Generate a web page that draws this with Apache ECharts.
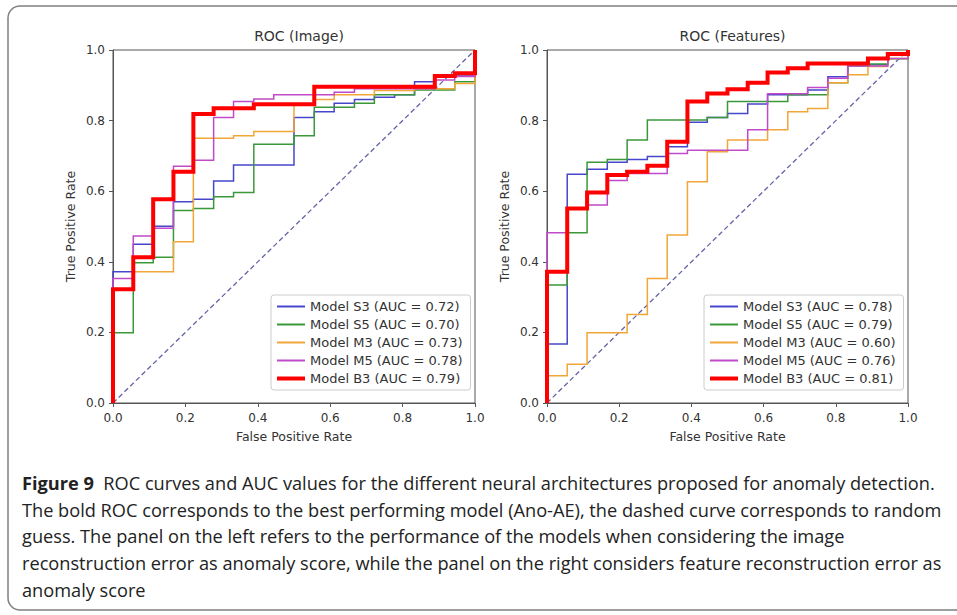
<!DOCTYPE html>
<html><head><meta charset="utf-8">
<script src="https://cdn.jsdelivr.net/npm/echarts@6/dist/echarts.min.js"></script>
<style>html,body{margin:0;padding:0;background:#fff}#c{width:957px;height:615px}</style>
</head><body><div id="c"></div>
<script>
// ---- data ----
const fprGrid = [0, 0.056, 0.111, 0.167, 0.222, 0.278, 0.333, 0.389, 0.444, 0.5, 0.556, 0.611, 0.667, 0.722, 0.778, 0.833, 0.889, 0.944, 1];
const modelNames = ['Model S3', 'Model S5', 'Model M3', 'Model M5', 'Model B3'];
const imageAUC = ['0.72', '0.70', '0.73', '0.78', '0.79'];
const featureAUC = ['0.78', '0.79', '0.60', '0.76', '0.81'];
const panelTitles = ['ROC (Image)', 'ROC (Features)'];
const axisTicks = [0, 0.2, 0.4, 0.6, 0.8, 1.0];

// TPR level reached at each FPR of fprGrid — image reconstruction error
const imageS3 = [0.372, 0.450, 0.501, 0.570, 0.577, 0.629, 0.674, 0.674, 0.674, 0.809, 0.825, 0.849, 0.860, 0.866, 0.873, 0.910, 0.929, 0.929, 0.929];
const imageS5 = [0.199, 0.397, 0.413, 0.545, 0.551, 0.584, 0.596, 0.733, 0.733, 0.757, 0.838, 0.838, 0.849, 0.873, 0.873, 0.887, 0.887, 0.910, 0.910];
const imageM3 = [0.320, 0.372, 0.372, 0.457, 0.750, 0.750, 0.757, 0.769, 0.769, 0.845, 0.860, 0.873, 0.873, 0.885, 0.885, 0.890, 0.890, 0.905, 0.905];
const imageM5 = [0.353, 0.473, 0.495, 0.671, 0.688, 0.809, 0.854, 0.861, 0.873, 0.873, 0.873, 0.880, 0.890, 0.890, 0.890, 0.890, 0.915, 0.925, 0.925];
const imageB3 = [0.322, 0.413, 0.577, 0.655, 0.819, 0.835, 0.835, 0.846, 0.846, 0.846, 0.896, 0.896, 0.896, 0.896, 0.896, 0.896, 0.926, 0.934, 0.934];

// feature reconstruction error
const featS3 = [0.167, 0.648, 0.662, 0.682, 0.690, 0.698, 0.726, 0.795, 0.809, 0.820, 0.847, 0.873, 0.873, 0.887, 0.924, 0.958, 0.958, 0.990, 0.990];
const featS5 = [0.334, 0.482, 0.682, 0.690, 0.745, 0.802, 0.802, 0.802, 0.809, 0.854, 0.854, 0.854, 0.873, 0.873, 0.907, 0.955, 0.960, 0.975, 0.990];
const featM3 = [0.077, 0.110, 0.199, 0.199, 0.251, 0.353, 0.476, 0.627, 0.712, 0.745, 0.745, 0.774, 0.825, 0.834, 0.907, 0.930, 0.953, 0.976, 0.976];
const featM5 = [0.482, 0.550, 0.561, 0.630, 0.650, 0.650, 0.707, 0.716, 0.716, 0.716, 0.774, 0.876, 0.876, 0.894, 0.920, 0.955, 0.955, 0.976, 0.976];
const featB3 = [0.372, 0.551, 0.596, 0.646, 0.655, 0.672, 0.740, 0.854, 0.877, 0.889, 0.907, 0.936, 0.948, 0.962, 0.962, 0.962, 0.976, 0.989, 0.989];

const captionLines = [
  'ROC curves and AUC values for the different neural architectures proposed for anomaly detection.',
  'The bold ROC corresponds to the best performing model (Ano-AE), the dashed curve corresponds to random',
  'guess. The panel on the left refers to the performance of the models when considering the image',
  'reconstruction error as anomaly score, while the panel on the right considers feature reconstruction error as',
  'anomaly score'
];

// ---- styling ----
const colors = ['#4646cc', '#3a983a', '#f2a638', '#c04ac8', '#ff0000'];
const widths = [1.5, 1.5, 1.5, 1.5, 4];
const FONT = 'DejaVu Sans';
const CAPFONT = 'Open Sans';
const CAPSIZE = 18.2;
const grids = [
  {left: 113, top: 50, width: 362, height: 353},
  {left: 547, top: 50, width: 361, height: 353}
];
const legendPos = [{left: 271, top: 295}, {left: 704, top: 295}];

function rocData(tpr) {
  const d = [[0, 0]];
  fprGrid.forEach((f, i) => d.push([f, tpr[i]]));
  d.push([1, 1]);
  return d;
}

const panels = [
  {auc: imageAUC, tprs: [imageS3, imageS5, imageM3, imageM5, imageB3]},
  {auc: featureAUC, tprs: [featS3, featS5, featM3, featM5, featB3]}
];

const option = {
  animation: false,
  backgroundColor: '#fff',
  title: panelTitles.map((t, p) => ({
    text: t,
    left: grids[p].left + grids[p].width / 2,
    top: 24,
    textAlign: 'center',
    textStyle: {fontFamily: FONT, fontSize: 14, fontWeight: 'normal', color: '#333'}
  })),
  grid: grids.map(g => Object.assign({show: true, borderColor: '#555', borderWidth: 1, backgroundColor: 'transparent'}, g)),
  xAxis: grids.map((g, p) => ({
    type: 'value', gridIndex: p, min: 0, max: 1, interval: 0.2,
    name: 'False Positive Rate', nameLocation: 'middle', nameGap: 27,
    nameTextStyle: {fontFamily: FONT, fontSize: 12.5, color: '#333'},
    axisLine: {show: true, lineStyle: {color: '#555', width: 1}},
    axisTick: {show: true, inside: false, length: 4, lineStyle: {color: '#555'}},
    axisLabel: {margin: 9, fontFamily: FONT, fontSize: 12, color: '#333', formatter: v => v.toFixed(1)},
    splitLine: {show: false}
  })),
  yAxis: grids.map((g, p) => ({
    type: 'value', gridIndex: p, min: 0, max: 1, interval: 0.2,
    name: 'True Positive Rate', nameLocation: 'middle', nameGap: 36,
    nameTextStyle: {fontFamily: FONT, fontSize: 12.5, color: '#333'},
    axisLine: {show: true, lineStyle: {color: '#555', width: 1}},
    axisTick: {show: true, inside: false, length: 4, lineStyle: {color: '#555'}},
    axisLabel: {margin: 8, fontFamily: FONT, fontSize: 12, color: '#333', formatter: v => v.toFixed(1)},
    splitLine: {show: false}
  })),
  legend: panels.map((pn, p) => ({
    orient: 'vertical', left: legendPos[p].left, top: legendPos[p].top,
    padding: [5, 8, 5, 4], itemGap: 5, itemWidth: 28, itemHeight: 14,
    borderColor: '#cccccc', borderWidth: 1, borderRadius: 3, backgroundColor: '#fff',
    textStyle: {fontFamily: FONT, fontSize: 13, color: '#333'},
    itemStyle: {opacity: 0, borderWidth: 0},
    selectedMode: false,
    data: modelNames.map((m, i) => ({
      name: m + ' (AUC = ' + pn.auc[i] + ')',
      itemStyle: {opacity: 0, borderWidth: 0},
      lineStyle: {width: i === 4 ? 4 : 2}
    }))
  })),
  series: [],
  graphic: []
};

panels.forEach((pn, p) => {
  option.series.push({
    type: 'line', name: 'random' + p, xAxisIndex: p, yAxisIndex: p,
    data: [[0, 0], [1, 1]], symbol: 'none', silent: true, z: 2,
    lineStyle: {color: '#6464a8', width: 1.3, type: [5, 3]}
  });
  pn.tprs.forEach((tpr, i) => {
    option.series.push({
      type: 'line', name: modelNames[i] + ' (AUC = ' + pn.auc[i] + ')',
      xAxisIndex: p, yAxisIndex: p, data: rocData(tpr), step: 'end',
      symbol: 'none', clip: false, z: 3 + i,
      lineStyle: {color: colors[i], width: widths[i], join: 'miter'},
      itemStyle: {color: colors[i]}
    });
  });
});

// figure frame
option.graphic.push({
  type: 'rect', z: -1, silent: true,
  shape: {x: 8, y: 6, width: 1000, height: 604, r: 12},
  style: {fill: 'none', stroke: '#808080', lineWidth: 1.5}
});
// caption
const capY = [485, 512, 538, 565, 592];
captionLines.forEach((ln, k) => {
  option.graphic.push({
    type: 'text', left: 22, top: capY[k] - 11, silent: true,
    style: {
      text: k === 0 ? '{b|Figure 9}  ' + ln : ln,
      fontFamily: CAPFONT, fontSize: CAPSIZE, fill: '#222',
      rich: {b: {fontFamily: CAPFONT, fontSize: CAPSIZE, fontWeight: 'bold', fill: '#222'}}
    }
  });
});

const chart = echarts.init(document.getElementById('c'), null, {renderer: 'svg'});
chart.setOption(option);
</script>
</body></html>
